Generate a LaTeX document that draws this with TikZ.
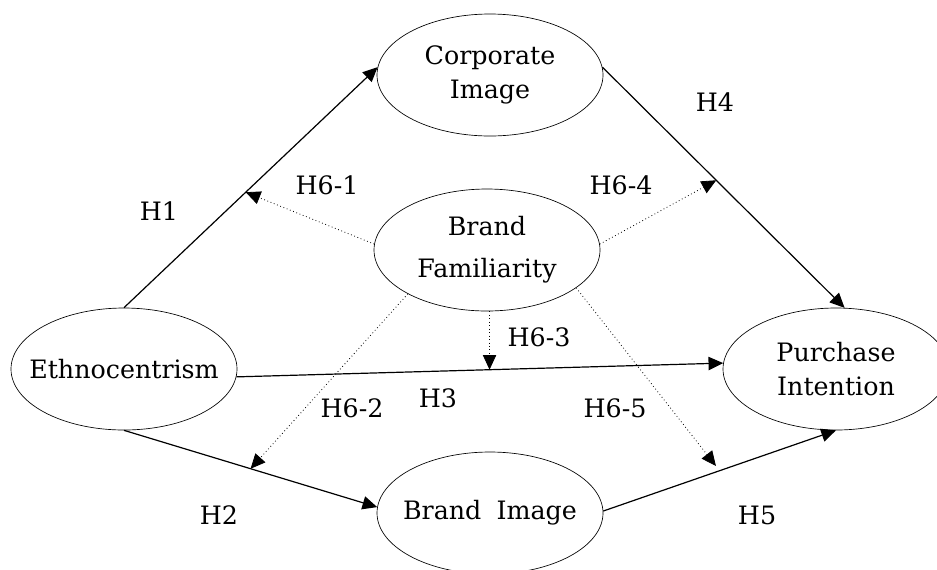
\documentclass[tikz,border=0pt]{standalone}
\usepackage{fontspec}
\setmainfont{DejaVu Serif}
\usetikzlibrary{arrows.meta,shapes.geometric,calc}
\begin{document}
\begin{tikzpicture}[x=0.75pt,y=-0.75pt,
  every node/.style={font=\fontsize{19}{26}\selectfont},
  var/.style={ellipse,draw,line width=0.5pt,minimum width=169.5pt,minimum height=91.5pt,inner sep=0pt},
  vtext/.style={align=center,inner sep=0pt},
  path/.style={line width=0.9pt,-{Triangle[length=11pt,width=10pt]}},
  mod/.style={line width=0.6pt,dotted,-{Triangle[length=11pt,width=10pt]}},
  lab/.style={inner sep=0pt}]
\useasboundingbox (0,0) rectangle (937,569);
\node[var] (corp) at (490,75) {};
\node[var] (bf) at (487,250) {};
\node[var] (eth) at (124,369) {};
\node[var] (bi) at (490,513) {};
\node[var] (pi) at (836,369) {};
\node[vtext] (corpt) at (corp) {Corporate\\Image};
\node[vtext,font=\fontsize{19}{31.5}\selectfont] (bft) at (bf) {Brand\\Familiarity};
\node[vtext] (etht) at (eth) {Ethnocentrism};
\node[vtext] (bit) at (bi) {Brand\hspace{0.6em}Image};
\node[vtext] (pit) at (pi) {Purchase\\Intention};

\draw[path] (eth.north) -- (corp.176);
\draw[path] (corp.4) -- (pi.82);
\draw[path] (eth.-4) -- (pi.177);
\draw[path] (eth.south) -- (bi.177);
\draw[path] (bi.1) -- (pi.south);

\coordinate (h61) at ($(eth.north)!0.48!(corp.176)$);
\coordinate (h64) at ($(corp.4)!0.47!(pi.82)$);
\coordinate (h63) at ($(eth.-4)!0.52!(pi.177)$);
\coordinate (h62) at ($(eth.south)!0.5!(bi.177)$);
\coordinate (h65) at ($(bi.1)!0.5!(pi.south)$);

\draw[mod] (bf.177) -- (h61);
\draw[mod] (bf.3) -- (h64);
\draw[mod] (bf.south -| h63) -- (h63);
\draw[mod] (bf.209) -- (h62);
\draw[mod,shorten >=4.5pt] (bf.-23) -- (h65);

\node[lab] (l1) at (159,211) {H1};
\node[lab] (l61) at (327,185) {H6-1};
\node[lab] (l4) at (715,102) {H4};
\node[lab] (l64) at (621,185) {H6-4};
\node[lab] (l63) at (539,337) {H6-3};
\node[lab] (l3) at (438,398) {H3};
\node[lab] (l62) at (352,408) {H6-2};
\node[lab] (l65) at (615,408) {H6-5};
\node[lab] (l2) at (219,515) {H2};
\node[lab] (l5) at (757,515) {H5};
\end{tikzpicture}
\end{document}
